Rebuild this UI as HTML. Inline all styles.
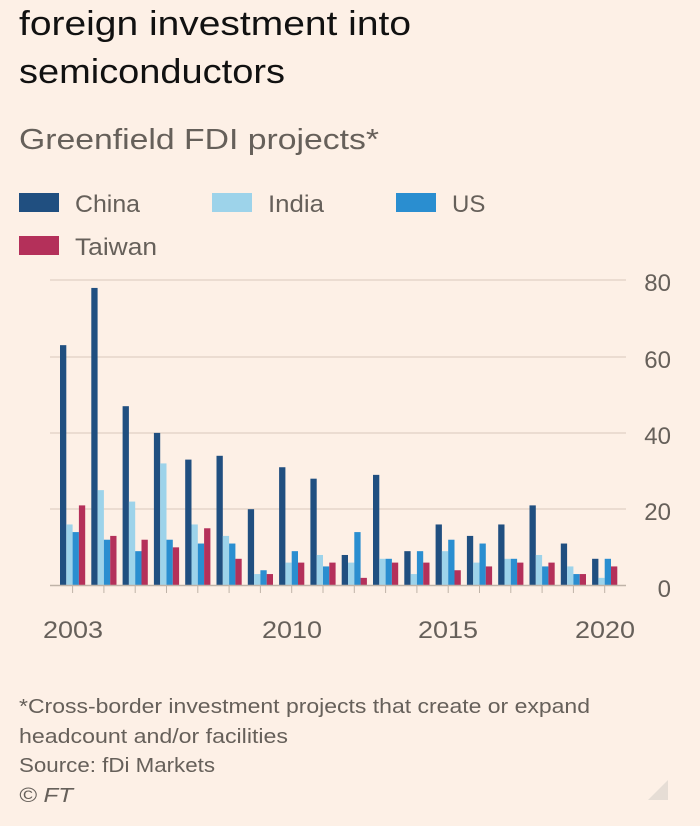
<!DOCTYPE html>
<html><head><meta charset="utf-8"><style>
html,body{margin:0;padding:0;background:#fdf0e6;}
svg{display:block;font-family:"Liberation Sans",sans-serif;}
</style></head><body>
<svg width="700" height="826" viewBox="0 0 700 826" xmlns="http://www.w3.org/2000/svg">
<rect width="700" height="826" fill="#fdf0e6"/>
<text x="19" y="35" font-size="34" fill="#111" textLength="392" lengthAdjust="spacingAndGlyphs">foreign investment into</text>
<text x="19" y="83" font-size="34" fill="#111" textLength="266" lengthAdjust="spacingAndGlyphs">semiconductors</text>
<text x="19" y="149" font-size="29" fill="#66605a" textLength="360" lengthAdjust="spacingAndGlyphs">Greenfield FDI projects*</text>
<rect x="19" y="193" width="40" height="19" fill="#204f80"/>
<text x="75" y="212" font-size="24" fill="#66605a" textLength="65" lengthAdjust="spacingAndGlyphs">China</text>
<rect x="212" y="193" width="40" height="19" fill="#9dd3ea"/>
<text x="268" y="212" font-size="24" fill="#66605a" textLength="56" lengthAdjust="spacingAndGlyphs">India</text>
<rect x="396" y="193" width="40" height="19" fill="#2a8ed0"/>
<text x="452" y="212" font-size="24" fill="#66605a">US</text>
<rect x="19" y="236" width="40" height="19" fill="#b4305a"/>
<text x="75" y="255" font-size="24" fill="#66605a" textLength="82" lengthAdjust="spacingAndGlyphs">Taiwan</text>
<g stroke="#e5d6ca" stroke-width="1.5">
<line x1="50" y1="280" x2="626" y2="280"/>
<line x1="50" y1="357" x2="626" y2="357"/>
<line x1="50" y1="433" x2="626" y2="433"/>
<line x1="50" y1="509" x2="626" y2="509"/>
</g>
<g font-size="24" fill="#66605a" text-anchor="end">
<text x="671" y="291">80</text><text x="671" y="368">60</text><text x="671" y="444">40</text><text x="671" y="520">20</text><text x="671" y="597">0</text>
</g>
<g id="bars"></g>
<line x1="50" y1="585.5" x2="626" y2="585.5" stroke="#bfb3a8" stroke-width="1.5"/>
<g id="ticks" stroke="#bfb3a8" stroke-width="1"></g>
<g font-size="24" fill="#66605a">
<text x="43" y="638" textLength="60" lengthAdjust="spacingAndGlyphs">2003</text><text x="262" y="638" textLength="60" lengthAdjust="spacingAndGlyphs">2010</text><text x="418" y="638" textLength="60" lengthAdjust="spacingAndGlyphs">2015</text><text x="575" y="638" textLength="60" lengthAdjust="spacingAndGlyphs">2020</text>
</g>
<g font-size="20" fill="#66605a">
<text x="19" y="713" textLength="571" lengthAdjust="spacingAndGlyphs">*Cross-border investment projects that create or expand</text>
<text x="19" y="743" textLength="269" lengthAdjust="spacingAndGlyphs">headcount and/or facilities</text>
<text x="19" y="772" textLength="196" lengthAdjust="spacingAndGlyphs">Source: fDi Markets</text>
<text x="19" y="802" font-style="italic" textLength="54" lengthAdjust="spacingAndGlyphs">© FT</text>
</g>
<polygon points="668,780 668,800 648,800" fill="#e6ddd5"/>
<script>
var d=[[63,16,14,21],[78,25,12,13],[47,22,9,12],[40,32,12,10],[33,16,11,15],[34,13,11,7],[20,3,4,3],[31,6,9,6],[28,8,5,6],[8,6,14,2],[29,7,7,6],[9,3,9,6],[16,9,12,4],[13,6,11,5],[16,7,7,6],[21,8,5,6],[11,5,3,3],[7,2,7,5]];
var c=["#204f80","#9dd3ea","#2a8ed0","#b4305a"];
var g=document.getElementById("bars"),t=document.getElementById("ticks"),ns="http://www.w3.org/2000/svg";
d.forEach(function(r,i){var x0=60+i*31.3;r.forEach(function(v,j){var e=document.createElementNS(ns,"rect");var h=v*3.815;e.setAttribute("x",x0+j*6.3);e.setAttribute("y",585.5-h);e.setAttribute("width",6.3);e.setAttribute("height",h);e.setAttribute("fill",c[j]);g.appendChild(e);});
var l=document.createElementNS(ns,"line");var cx=x0+12.6;l.setAttribute("x1",cx);l.setAttribute("x2",cx);l.setAttribute("y1",586);l.setAttribute("y2",593);t.appendChild(l);});
</script>
</svg>
</body></html>
